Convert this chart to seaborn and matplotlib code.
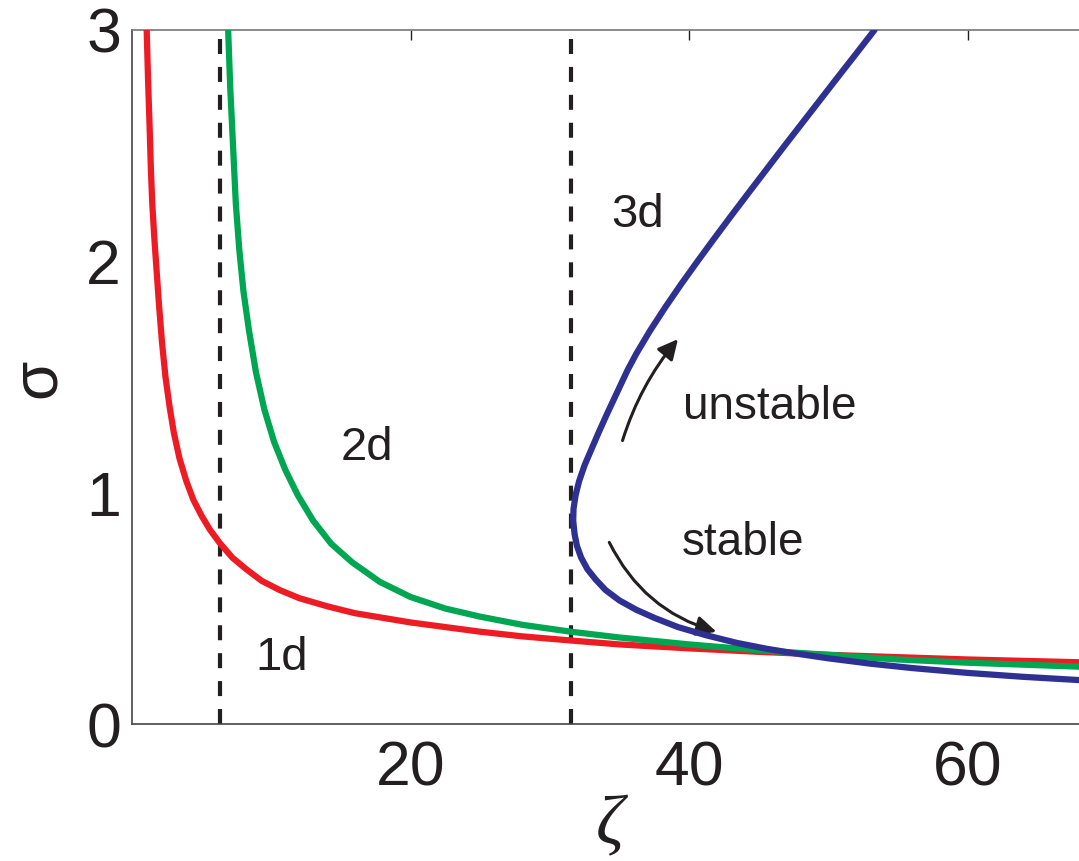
import numpy as np
import pandas as pd
import matplotlib
matplotlib.use("Agg")
import matplotlib.pyplot as plt
import seaborn as sns

# Critical widths sigma(zeta) for the 1d, 2d and 3d cases
zeta_1d = [1.05, 1.15, 1.25, 1.35, 1.45, 1.6, 1.75, 1.95, 2.15, 2.4, 2.7, 3.0, 3.4,
           3.9, 4.4, 5.0, 5.6, 6.3, 7.2, 8.2, 9.3, 10.6, 12.0, 14.0, 16.0, 18.0,
           20.0, 22.5, 25.0, 28.0, 31.5, 35.0, 40.0, 45.0, 50.0, 55.0, 60.0, 68.0]
sigma_1d = [3.00, 2.78, 2.60, 2.40, 2.25, 2.10, 1.97, 1.80, 1.65, 1.50, 1.37, 1.26, 1.15,
            1.05, 0.97, 0.90, 0.84, 0.783, 0.72, 0.67, 0.62, 0.58, 0.545, 0.51, 0.48, 0.46,
            0.44, 0.42, 0.40, 0.38, 0.362, 0.345, 0.328, 0.313, 0.30, 0.29, 0.28, 0.268]

zeta_2d = [6.9, 7.05, 7.25, 7.45, 7.7, 8.0, 8.4, 8.9, 9.5, 10.2, 11.0, 11.9, 13.0,
           14.3, 15.8, 17.8, 20.0, 22.5, 25.0, 28.0, 31.5, 35.0, 40.0, 45.0, 50.0,
           55.0, 60.0, 68.0]
sigma_2d = [3.00, 2.75, 2.50, 2.25, 2.05, 1.87, 1.70, 1.52, 1.36, 1.22, 1.10, 0.99, 0.88,
            0.78, 0.70, 0.615, 0.55, 0.50, 0.465, 0.43, 0.40, 0.375, 0.345, 0.32, 0.30,
            0.28, 0.266, 0.249]

# 3d branch: a fold, listed from the upper (unstable) end to the lower (stable) end
zeta_3d = [53.32, 52.03, 50.73, 49.44, 48.15, 46.86, 45.59, 44.32, 43.06, 41.82,
           40.60, 39.41, 38.27, 37.19, 36.2, 35.58, 34.8, 34.1, 33.5, 33.0, 32.5,
           32.1, 31.85, 31.7, 31.68, 31.78, 31.95, 32.25, 32.7, 33.3, 34.0, 35.0,
           36.2, 37.5, 39.2, 41.2, 43.4, 45.5, 47.3, 50.0, 53.0, 56.0, 60.0, 64.0, 68.0]
sigma_3d = [3.00, 2.90, 2.80, 2.70, 2.60, 2.50, 2.40, 2.30, 2.20, 2.10,
            2.00, 1.90, 1.80, 1.70, 1.60, 1.53, 1.43, 1.34, 1.26, 1.19, 1.12,
            1.05, 0.99, 0.93, 0.88, 0.82, 0.77, 0.72, 0.67, 0.625, 0.58, 0.535,
            0.495, 0.46, 0.42, 0.385, 0.352, 0.327, 0.309, 0.285, 0.262, 0.243, 0.222,
            0.205, 0.191]

# Dimension thresholds
thresholds = [6.31, 31.5]

x_ticks = [20, 40, 60]
y_ticks = [0, 1, 2, 3]

RED, GREEN, BLUE, INK = "#ED1C24", "#00A651", "#2E3192", "#231F20"

sns.set_theme(style="white")
plt.rcParams["font.family"] = ["Liberation Sans", "DejaVu Sans"]

fig = plt.figure(figsize=(10.79, 8.61), dpi=100)
ax = fig.add_axes([0.1224, 0.1588, 0.8776, 0.8064])

for xv in thresholds:
    ax.axvline(xv, color=INK, lw=3.0, dashes=(3.6, 3.1), zorder=1)

df1 = pd.DataFrame({"zeta": zeta_1d, "sigma": sigma_1d})
df2 = pd.DataFrame({"zeta": zeta_2d, "sigma": sigma_2d})
df3 = pd.DataFrame({"zeta": zeta_3d, "sigma": sigma_3d})

line_kw = dict(lw=4.5, sort=False, estimator=None, ax=ax,
               solid_joinstyle="round", solid_capstyle="round")
sns.lineplot(data=df1, x="zeta", y="sigma", color=RED, zorder=3, **line_kw)
sns.lineplot(data=df2, x="zeta", y="sigma", color=GREEN, zorder=4, **line_kw)
sns.lineplot(data=df3, x="zeta", y="sigma", color=BLUE, zorder=5, **line_kw)

ax.set_xlim(0, 68)
ax.set_ylim(0, 3)
ax.set_xticks(x_ticks)
ax.set_yticks(y_ticks)
ax.tick_params(direction="in", length=7.5, width=1.0, color=INK,
               labelsize=45, labelcolor=INK, top=True, right=False, pad=11)
ax.tick_params(axis="y", pad=8)

for side in ["left", "bottom", "top"]:
    ax.spines[side].set_color("#444444")
    ax.spines[side].set_linewidth(1.2)
ax.spines["top"].set_color("#777777")
ax.spines["right"].set_visible(False)

ax.set_xlabel("ζ", fontsize=50, family=["Liberation Serif", "DejaVu Serif"],
              style="italic", color=INK)
ax.set_ylabel("σ", fontsize=46, family=["Liberation Sans", "DejaVu Sans"],
              color=INK)
ax.xaxis.label.set_va("center")
ax.yaxis.label.set_va("center")
ax.xaxis.set_label_coords(0.5047, -0.149)
ax.yaxis.set_label_coords(-0.0994, 0.4988)

lab = dict(fontsize=34, color=INK, ha="center", va="center")
ax.text(36.3, 2.2, "3d", **lab)
ax.text(16.84, 1.193, "2d", **lab)
ax.text(10.74, 0.285, "1d", **lab)
ax.text(45.8, 1.373, "unstable", fontsize=33, color=INK, ha="center", va="center")
ax.text(43.9, 0.782, "stable", fontsize=33, color=INK, ha="center", va="center")

arrow = dict(arrowstyle="-|>", color=INK, lw=2.2, mutation_scale=30,
             shrinkA=0, shrinkB=0)
ax.annotate("", xy=(39.2, 1.664), xytext=(35.22, 1.226),
            arrowprops=dict(connectionstyle="arc3,rad=-0.1", **arrow))
ax.annotate("", xy=(41.96, 0.40), xytext=(34.27, 0.786),
            arrowprops=dict(connectionstyle="arc3,rad=0.22", **arrow))

fig.savefig("out.png", dpi=100)
